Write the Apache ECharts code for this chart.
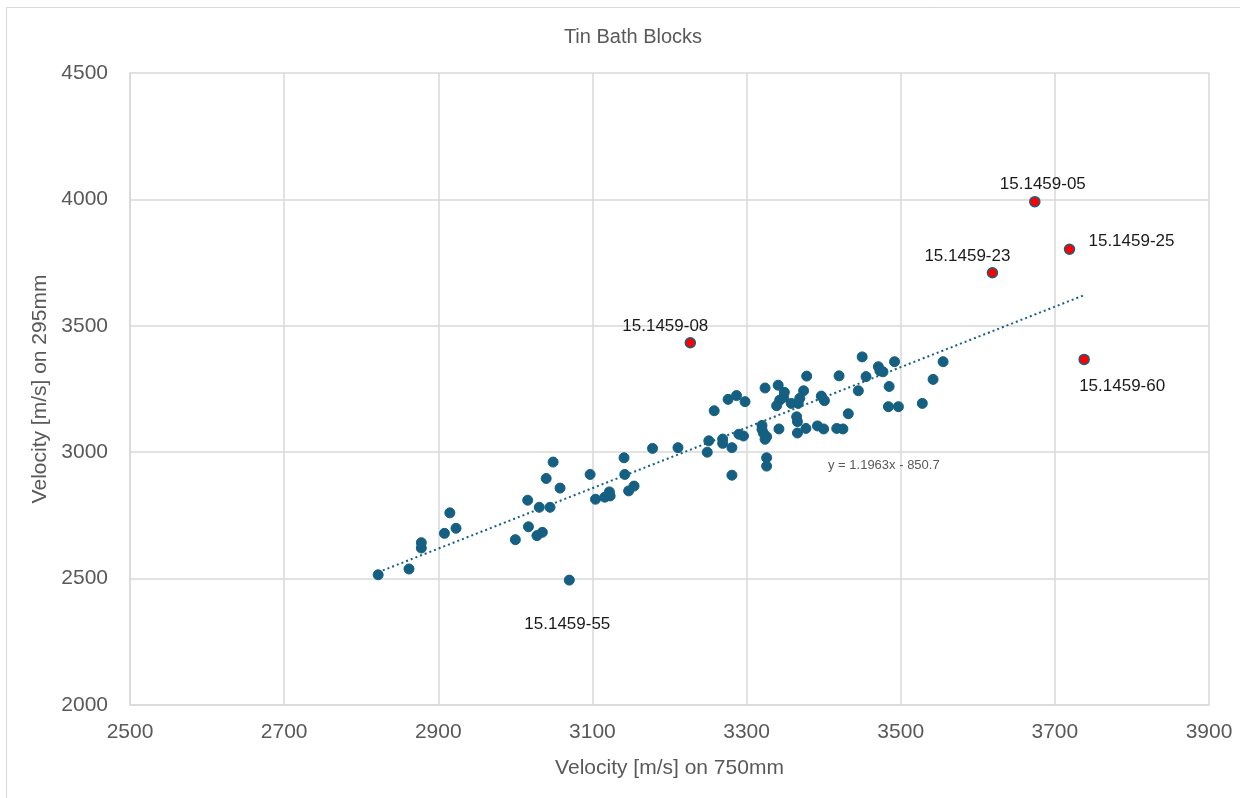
<!DOCTYPE html>
<html>
<head>
<meta charset="utf-8">
<script src="https://cdn.jsdelivr.net/npm/echarts@6/dist/echarts.min.js"></script>
<style>html,body{margin:0;padding:0;background:#fff;}#c{width:1240px;height:798px;}</style>
</head>
<body>
<div id="c"></div>
<script>
var chartTitle = 'Tin Bath Blocks';
var xAxisName = 'Velocity [m/s] on 750mm';
var yAxisName = 'Velocity [m/s] on 295mm';
var xTicks = [2500, 2700, 2900, 3100, 3300, 3500, 3700, 3900];
var yTicks = [2000, 2500, 3000, 3500, 4000, 4500];

var blockX = [2822,2862,2878,2878,2908,2915,2923,3000,3016,3017,3031,3045,3028,3035,3070,3104,3116,3123,3122,3058,3040,3049,3097,3141,3142,3147,3154,3178,3211,3249,3251,3258,3269,3269,3281,3281,3276,3287,3298,3290,3296,3320,3320,3322,3324,3326,3326,3326,3324,3341,3349,3348,3342,3343,3339,3358,3367,3369,3374,3378,3365,3366,3366,3377,3392,3400,3397,3401,3420,3417,3425,3432,3445,3450,3455,3471,3473,3477,3492,3485,3484,3497,3528,3542,3555];
var blockY = [2515,2538,2642,2621,2679,2760,2699,2654,2810,2705,2782,2782,2670,2683,2494,2814,2822,2827,2843,2858,2896,2961,2912,2978,2912,2847,2866,3015,3018,3000,3045,3164,3052,3035,3018,2909,3209,3224,3200,3071,3064,3106,3090,3075,3051,3061,2978,2945,3254,3265,3237,3217,3092,3206,3184,3193,3193,3213,3243,3301,3140,3121,3076,3094,3104,3092,3222,3204,3302,3094,3092,3152,3243,3377,3299,3338,3322,3318,3358,3260,3180,3180,3193,3288,3358];

var outlierNames = ['15.1459-08','15.1459-23','15.1459-05','15.1459-25','15.1459-60'];
var outlierX = [3227, 3619, 3674, 3719, 3738];
var outlierY = [3433, 3710, 3991, 3803, 3367];

var labelledBlockName = '15.1459-55';
var labelledBlockIndex = 14;

var trendSlope = 1.1963;
var trendIntercept = -850.7;
var trendLabel = 'y = 1.1963x - 850.7';

var blue = '#156082';
var grey = '#595959';
var gridColor = '#d9d9d9';

var labelOffsets = {
  '15.1459-08': [-25, -16],
  '15.1459-23': [-25, -16],
  '15.1459-05': [8, -17],
  '15.1459-25': [62, -8],
  '15.1459-60': [38, 27],
  '15.1459-55': [-2, 44]
};
function ptLabel(name) {
  return {show: true, formatter: name, position: 'inside', offset: labelOffsets[name],
    align: 'center', verticalAlign: 'middle', color: '#1a1a1a', fontSize: 17,
    fontFamily: 'Liberation Sans, Arial, sans-serif'};
}

var blockData = blockX.map(function (x, i) {
  var d = {value: [x, blockY[i]]};
  if (i === labelledBlockIndex) d.label = ptLabel(labelledBlockName);
  return d;
});
var outlierData = outlierX.map(function (x, i) {
  return {value: [x, outlierY[i]], label: ptLabel(outlierNames[i])};
});
var allX = blockX.concat(outlierX);
var tMin = Math.min.apply(null, allX), tMax = Math.max.apply(null, allX);
var trendData = [[tMin, trendSlope * tMin + trendIntercept], [tMax, trendSlope * tMax + trendIntercept]];

var font = 'Liberation Sans, Arial, sans-serif';
function plain(v) { return String(v); }
var chart = echarts.init(document.getElementById('c'));
chart.setOption({
  animation: false,
  backgroundColor: '#fff',
  title: {text: chartTitle, left: 628, top: 22, textAlign: 'center',
    textStyle: {color: grey, fontSize: 20, fontWeight: 'normal', fontFamily: font}},
  graphic: [
    {type: 'rect', shape: {x: 6.5, y: 7.5, width: 1300, height: 900}, style: {fill: 'none', stroke: gridColor, lineWidth: 1}, silent: true, z: -1},
    {type: 'text', left: 828, top: 459, style: {text: trendLabel, fill: grey, fontSize: 13, fontFamily: font}, z: 10}
  ],
  grid: {left: 130, top: 73, right: 31, bottom: 93},
  xAxis: {type: 'value', min: xTicks[0], max: xTicks[xTicks.length - 1], interval: 200,
    name: xAxisName, nameLocation: 'middle', nameGap: 53,
    nameTextStyle: {color: grey, fontSize: 21, fontFamily: font},
    axisLine: {show: true, lineStyle: {color: gridColor, width: 1.5}},
    axisTick: {show: false},
    axisLabel: {color: grey, fontSize: 21, margin: 17, fontFamily: font, formatter: plain},
    splitLine: {show: true, lineStyle: {color: gridColor, width: 1.5}}},
  yAxis: {type: 'value', min: yTicks[0], max: yTicks[yTicks.length - 1], interval: 500,
    name: yAxisName, nameLocation: 'middle', nameGap: 70,
    nameTextStyle: {color: grey, fontSize: 21, fontFamily: font},
    axisLine: {show: true, lineStyle: {color: gridColor, width: 1.5}},
    axisTick: {show: false},
    axisLabel: {color: grey, fontSize: 21, margin: 22, fontFamily: font, formatter: plain},
    splitLine: {show: true, lineStyle: {color: gridColor, width: 1.5}}},
  series: [
    {type: 'line', data: trendData, showSymbol: false, symbol: 'none',
      lineStyle: {color: blue, width: 2, type: [2, 3]}, z: 2, silent: true},
    {type: 'scatter', data: blockData, symbolSize: 10,
      itemStyle: {color: blue, borderColor: blue, borderWidth: 1, opacity: 1}, z: 3},
    {type: 'scatter', data: outlierData, symbolSize: 10,
      itemStyle: {color: '#ff0000', borderColor: blue, borderWidth: 1.5, opacity: 1}, z: 4}
  ]
});
</script>
</body>
</html>
